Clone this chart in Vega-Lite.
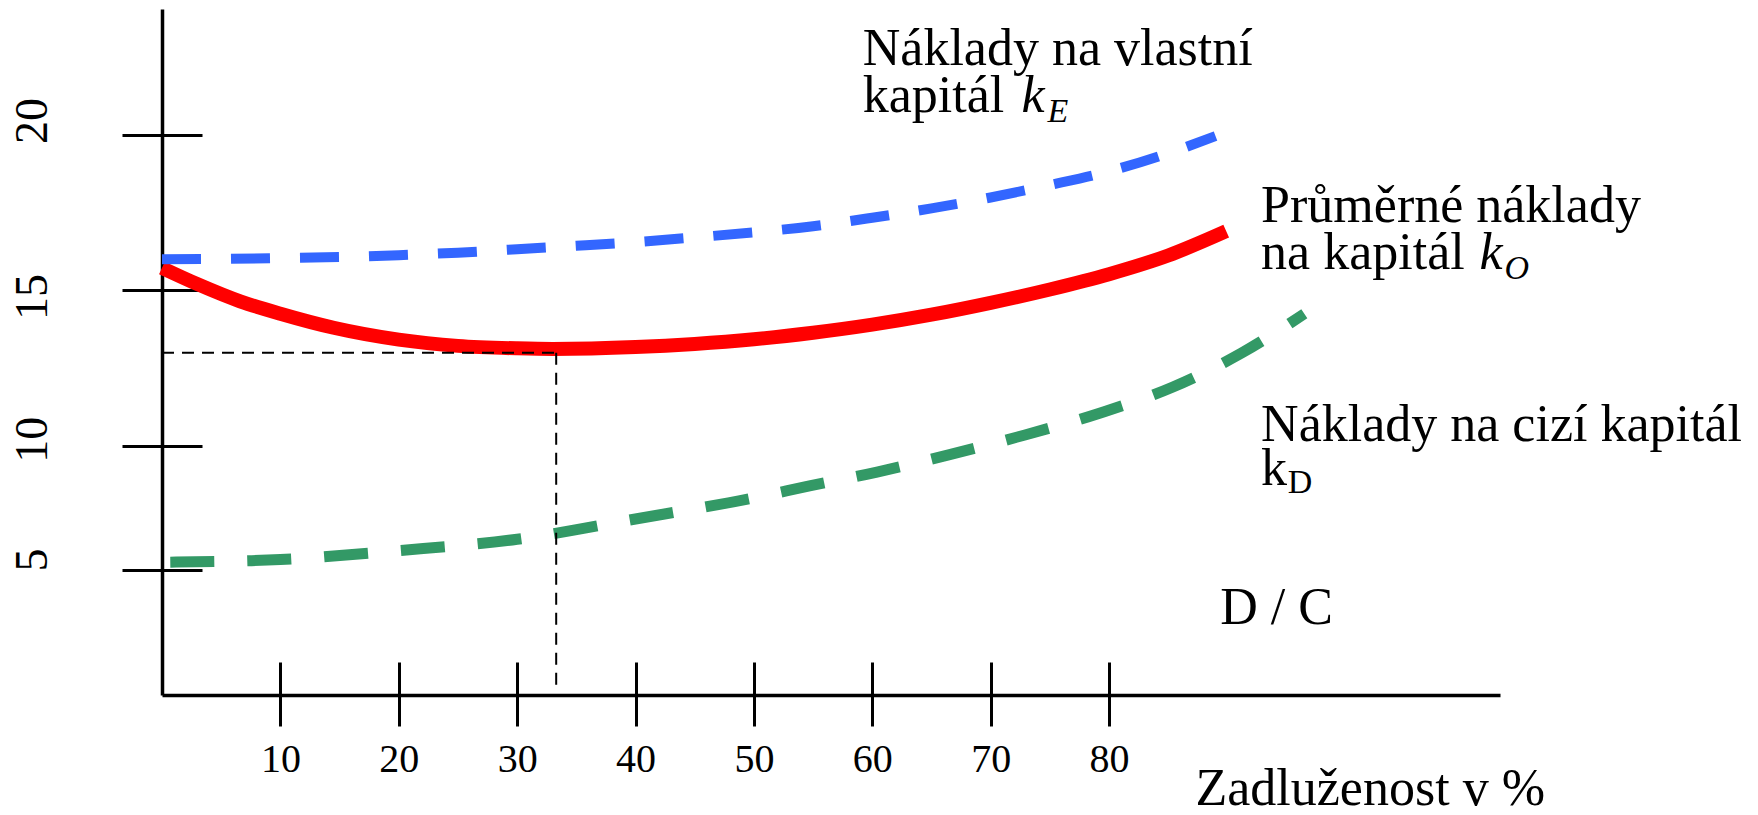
{
  "$schema": "https://vega.github.io/schema/vega-lite/v6.json",
  "width": 1338,
  "height": 686,
  "autosize": {"type": "none"},
  "padding": {"left": 162, "top": 9, "right": 258, "bottom": 120},
  "background": "white",
  "config": {"view": {"stroke": null}, "axis": {"grid": false}},
  "datasets": {
    "curves": [
      {"s": "ko", "d": 0, "k": 15.72}, {"s": "ko", "d": 3, "k": 15.2}, {"s": "ko", "d": 6.6, "k": 14.65},
      {"s": "ko", "d": 10, "k": 14.25}, {"s": "ko", "d": 14.5, "k": 13.8}, {"s": "ko", "d": 20, "k": 13.42},
      {"s": "ko", "d": 25, "k": 13.22}, {"s": "ko", "d": 30, "k": 13.14}, {"s": "ko", "d": 33, "k": 13.12},
      {"s": "ko", "d": 40, "k": 13.18}, {"s": "ko", "d": 45, "k": 13.28}, {"s": "ko", "d": 50, "k": 13.43},
      {"s": "ko", "d": 55, "k": 13.64}, {"s": "ko", "d": 60, "k": 13.9}, {"s": "ko", "d": 65, "k": 14.22},
      {"s": "ko", "d": 70, "k": 14.6}, {"s": "ko", "d": 75, "k": 15.03}, {"s": "ko", "d": 80, "k": 15.52},
      {"s": "ko", "d": 85, "k": 16.12}, {"s": "ko", "d": 89.9, "k": 16.9},
      {"s": "ke", "d": 0, "k": 16.0}, {"s": "ke", "d": 5, "k": 16.01}, {"s": "ke", "d": 10, "k": 16.04},
      {"s": "ke", "d": 15, "k": 16.07}, {"s": "ke", "d": 20, "k": 16.13}, {"s": "ke", "d": 25, "k": 16.21},
      {"s": "ke", "d": 30, "k": 16.32}, {"s": "ke", "d": 35, "k": 16.43}, {"s": "ke", "d": 40, "k": 16.55},
      {"s": "ke", "d": 45, "k": 16.7}, {"s": "ke", "d": 50, "k": 16.86}, {"s": "ke", "d": 55, "k": 17.06},
      {"s": "ke", "d": 60, "k": 17.33}, {"s": "ke", "d": 65, "k": 17.63}, {"s": "ke", "d": 70, "k": 17.98},
      {"s": "ke", "d": 75, "k": 18.38}, {"s": "ke", "d": 80, "k": 18.82}, {"s": "ke", "d": 85, "k": 19.4},
      {"s": "ke", "d": 89, "k": 19.95},
      {"s": "kd", "d": 0.7, "k": 5.3}, {"s": "kd", "d": 10, "k": 5.41}, {"s": "kd", "d": 20, "k": 5.77},
      {"s": "kd", "d": 30, "k": 6.23}, {"s": "kd", "d": 40, "k": 7.05}, {"s": "kd", "d": 50, "k": 7.91},
      {"s": "kd", "d": 54.7, "k": 8.39}, {"s": "kd", "d": 60.4, "k": 8.95}, {"s": "kd", "d": 66.7, "k": 9.68},
      {"s": "kd", "d": 72.9, "k": 10.36}, {"s": "kd", "d": 79.2, "k": 11.06}, {"s": "kd", "d": 85.4, "k": 11.9},
      {"s": "kd", "d": 91.2, "k": 12.99}, {"s": "kd", "d": 96.5, "k": 14.25}
    ],
    "guides": [
      {"d": 0, "d2": 33.3, "k": 13.0, "k2": 13.0},
      {"d": 33.3, "d2": 33.3, "k": 13.0, "k2": 0.35}
    ],
    "labels": [
      {"t": "Náklady na vlastní", "d": 59.2, "k": 22.23},
      {"t": "kapitál", "d": 59.2, "k": 20.72},
      {"t": "Průměrné náklady", "d": 92.85, "k": 17.19},
      {"t": "na kapitál", "d": 92.85, "k": 15.69},
      {"t": "Náklady na cizí kapitál", "d": 92.85, "k": 10.17},
      {"t": "k", "d": 92.85, "k": 8.43},
      {"t": "D / C", "d": 89.4, "k": 2.83}
    ],
    "italic": [
      {"t": "k", "d": 72.6, "k": 20.72},
      {"t": "k", "d": 111.3, "k": 15.69}
    ],
    "subItalic": [
      {"t": "E", "d": 74.8, "k": 20.4},
      {"t": "O", "d": 113.4, "k": 15.37}
    ],
    "subNormal": [
      {"t": "D", "d": 95.1, "k": 8.1}
    ]
  },
  "resolve": {"axis": {"x": "independent", "y": "independent"}},
  "layer": [
    {
      "data": {"name": "curves"},
      "transform": [{"filter": "datum.s === 'ko'"}],
      "mark": {"type": "line", "color": "#FF0000", "strokeWidth": 14, "interpolate": "monotone", "strokeCap": "butt"},
      "encoding": {
        "x": {"field": "d", "type": "quantitative",
          "scale": {"domain": [0, 113.03], "nice": false, "zero": false},
          "axis": {"orient": "bottom", "values": [10, 20, 30, 40, 50, 60, 70, 80], "tickSize": 31, "tickWidth": 3, "tickColor": "black",
            "domainColor": "black", "domainWidth": 3.5, "labelFont": "Liberation Serif", "labelFontSize": 40, "labelColor": "black",
            "labelBaseline": "alphabetic", "labelPadding": 45, "labelFlush": false, "labelOverlap": false,
            "title": "Zadluženost v %", "titleFont": "Liberation Serif", "titleFontSize": 52, "titleFontWeight": "normal",
            "titleColor": "black", "titleX": 1033, "titleY": 109, "titleAlign": "left", "titleBaseline": "alphabetic", "titleAnchor": null}},
        "y": {"field": "k", "type": "quantitative",
          "scale": {"domain": [0, 5, 10, 15, 20, 24], "range": [686, 560.6, 437.2, 281.4, 125.5, 0], "nice": false, "zero": false},
          "axis": {"orient": "left", "values": [5, 10, 15, 20], "tickSize": 40, "tickWidth": 3, "tickColor": "black",
            "domainColor": "black", "domainWidth": 3.5, "labelFont": "Liberation Serif", "labelFontSize": 46, "labelColor": "black",
            "labelAngle": -90, "labelAlign": "center", "labelBaseline": "alphabetic", "labelPadding": 76, "labelFlush": false, "labelOverlap": false,
            "labelOffset": {"condition": [{"test": "datum.value === 20", "value": -14}, {"test": "datum.value === 15", "value": 6}, {"test": "datum.value === 10", "value": -7}], "value": -10},
            "title": null}}
      }
    },
    {
      "data": {"name": "curves"},
      "transform": [{"filter": "datum.s === 'ke'"}],
      "mark": {"type": "line", "color": "#3366FF", "strokeWidth": 10, "interpolate": "monotone", "strokeDash": [39, 30], "strokeCap": "butt"},
      "encoding": {
        "x": {"field": "d", "type": "quantitative", "scale": {"domain": [0, 113.03], "nice": false, "zero": false},
          "axis": {"orient": "bottom", "values": [10, 20, 30, 40, 50, 60, 70, 80], "tickSize": -33, "tickWidth": 3, "tickColor": "black",
            "labels": false, "domain": false, "title": null}},
        "y": {"field": "k", "type": "quantitative",
          "scale": {"domain": [0, 5, 10, 15, 20, 24], "range": [686, 560.6, 437.2, 281.4, 125.5, 0], "nice": false, "zero": false},
          "axis": {"orient": "left", "values": [5, 10, 15, 20], "tickSize": -40, "tickWidth": 3, "tickColor": "black",
            "labels": false, "domain": false, "title": null}}
      }
    },
    {
      "data": {"name": "curves"},
      "transform": [{"filter": "datum.s === 'kd'"}],
      "mark": {"type": "line", "color": "#339966", "strokeWidth": 11, "interpolate": "monotone", "strokeDash": [44, 33], "strokeCap": "butt"},
      "encoding": {
        "x": {"field": "d", "type": "quantitative", "scale": {"domain": [0, 113.03], "nice": false, "zero": false}, "axis": null},
        "y": {"field": "k", "type": "quantitative",
          "scale": {"domain": [0, 5, 10, 15, 20, 24], "range": [686, 560.6, 437.2, 281.4, 125.5, 0], "nice": false, "zero": false}, "axis": null}
      }
    },
    {
      "data": {"name": "guides"},
      "mark": {"type": "rule", "color": "black", "strokeWidth": 2, "strokeDash": [12, 8]},
      "encoding": {
        "x": {"field": "d", "type": "quantitative", "scale": {"domain": [0, 113.03], "nice": false, "zero": false}, "axis": null},
        "x2": {"field": "d2"},
        "y": {"field": "k", "type": "quantitative",
          "scale": {"domain": [0, 5, 10, 15, 20, 24], "range": [686, 560.6, 437.2, 281.4, 125.5, 0], "nice": false, "zero": false}, "axis": null},
        "y2": {"field": "k2"}
      }
    },
    {
      "data": {"name": "labels"},
      "mark": {"type": "text", "font": "Liberation Serif", "fontSize": 52, "align": "left", "baseline": "alphabetic", "color": "black"},
      "encoding": {
        "x": {"field": "d", "type": "quantitative", "scale": {"domain": [0, 113.03], "nice": false, "zero": false}, "axis": null},
        "y": {"field": "k", "type": "quantitative",
          "scale": {"domain": [0, 5, 10, 15, 20, 24], "range": [686, 560.6, 437.2, 281.4, 125.5, 0], "nice": false, "zero": false}, "axis": null},
        "text": {"field": "t"}
      }
    },
    {
      "data": {"name": "italic"},
      "mark": {"type": "text", "font": "Liberation Serif", "fontSize": 52, "fontStyle": "italic", "align": "left", "baseline": "alphabetic", "color": "black"},
      "encoding": {
        "x": {"field": "d", "type": "quantitative", "scale": {"domain": [0, 113.03], "nice": false, "zero": false}, "axis": null},
        "y": {"field": "k", "type": "quantitative",
          "scale": {"domain": [0, 5, 10, 15, 20, 24], "range": [686, 560.6, 437.2, 281.4, 125.5, 0], "nice": false, "zero": false}, "axis": null},
        "text": {"field": "t"}
      }
    },
    {
      "data": {"name": "subItalic"},
      "mark": {"type": "text", "font": "Liberation Serif", "fontSize": 34, "fontStyle": "italic", "align": "left", "baseline": "alphabetic", "color": "black"},
      "encoding": {
        "x": {"field": "d", "type": "quantitative", "scale": {"domain": [0, 113.03], "nice": false, "zero": false}, "axis": null},
        "y": {"field": "k", "type": "quantitative",
          "scale": {"domain": [0, 5, 10, 15, 20, 24], "range": [686, 560.6, 437.2, 281.4, 125.5, 0], "nice": false, "zero": false}, "axis": null},
        "text": {"field": "t"}
      }
    },
    {
      "data": {"name": "subNormal"},
      "mark": {"type": "text", "font": "Liberation Serif", "fontSize": 34, "align": "left", "baseline": "alphabetic", "color": "black"},
      "encoding": {
        "x": {"field": "d", "type": "quantitative", "scale": {"domain": [0, 113.03], "nice": false, "zero": false}, "axis": null},
        "y": {"field": "k", "type": "quantitative",
          "scale": {"domain": [0, 5, 10, 15, 20, 24], "range": [686, 560.6, 437.2, 281.4, 125.5, 0], "nice": false, "zero": false}, "axis": null},
        "text": {"field": "t"}
      }
    }
  ]
}
